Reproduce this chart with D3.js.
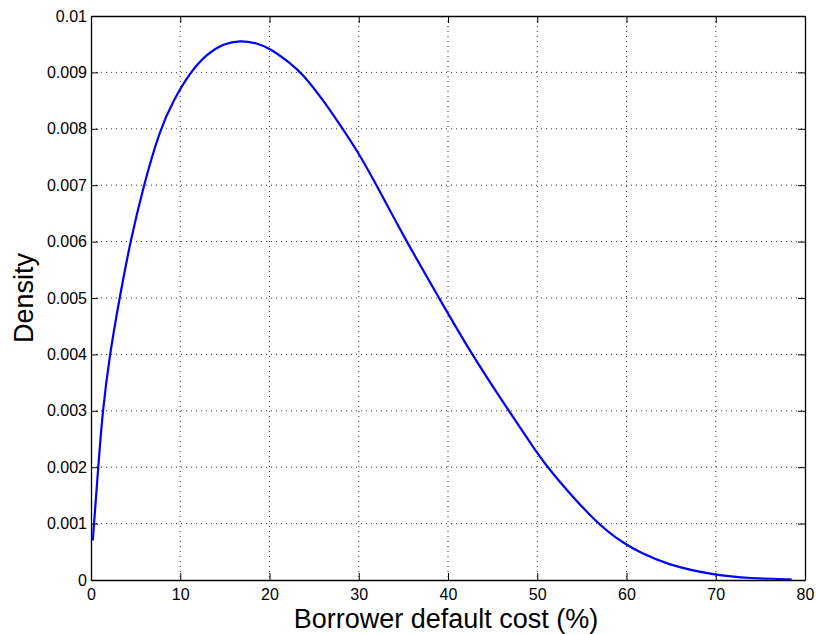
<!DOCTYPE html>
<html>
<head>
<meta charset="utf-8">
<script src="https://cdn.jsdelivr.net/npm/d3@7"></script>
<style>
  body { margin: 0; background: #fff; }
  svg { display: block; font-family: Arial, "Liberation Sans", Helvetica, sans-serif; }
</style>
</head>
<body>
<svg id="chart" width="816" height="634"></svg>
<script>
(() => {
    // values
    const costs = [0.2, 0.8, 1.3, 2.1, 3.2, 4.4, 5.9, 7.75, 9.25, 11.1, 13.0, 14.85, 16.7, 18.6, 20.0,
        22.3, 23.8, 26.0, 27.9, 30.0, 32.0, 35.35, 39.0, 42.65, 46.8, 50.0, 51.2, 56.7, 60.0, 61.4, 64.5, 70.0, 73.8, 78.5];
    const density = [0.0007, 0.00198, 0.0030, 0.0040, 0.0050, 0.0060, 0.0070, 0.0080, 0.00851, 0.0090, 0.00933, 0.00951, 0.00957, 0.00952, 0.00943,
        0.00917, 0.00896, 0.00851, 0.00807, 0.00757, 0.0070, 0.0060, 0.0050, 0.0040, 0.0030, 0.00225, 0.00198, 0.00098, 0.00062, 0.0005, 0.00027, 0.00008, 0.00003, 0.00001];
    const xTicks = [0, 10, 20, 30, 40, 50, 60, 70, 80];
    const yTicks = [0, 0.001, 0.002, 0.003, 0.004, 0.005, 0.006, 0.007, 0.008, 0.009, 0.01];

    const data = costs.map((c, i) => ({ x: c, y: density[i] }));

    const svg = d3.select("#chart"),
        margin = { top: 16, right: 11, bottom: 54, left: 91 },
        width = +svg.attr("width") - margin.left - margin.right,
        height = +svg.attr("height") - margin.top - margin.bottom;

    const g = svg.append("g").attr("transform", `translate(${margin.left},${margin.top})`);

    const x = d3.scaleLinear().domain([0, 80]).range([0, width]);
    const y = d3.scaleLinear().domain([0, 0.01]).range([height, 0]);

    // dotted grid
    g.append("g").selectAll("line")
        .data(xTicks.slice(1, -1))
        .enter().append("line")
        .attr("x1", d => x(d)).attr("x2", d => x(d))
        .attr("y1", 0).attr("y2", height)
        .attr("stroke", "#333").attr("stroke-width", 1)
        .attr("stroke-dasharray", "1,4");

    g.append("g").selectAll("line")
        .data(yTicks.slice(1, -1))
        .enter().append("line")
        .attr("x1", 0).attr("x2", width)
        .attr("y1", d => y(d)).attr("y2", d => y(d))
        .attr("stroke", "#333").attr("stroke-width", 1)
        .attr("stroke-dasharray", "1,4");

    const fmt = d => (d === 0 ? "0" : String(+d.toFixed(3)));

    // axes (inward ticks, MATLAB box)
    const styleAxis = sel => {
        sel.select(".domain").attr("stroke", "#000").attr("stroke-width", 1.3);
        sel.selectAll(".tick line").attr("stroke", "#000").attr("stroke-width", 1);
        sel.selectAll(".tick text").attr("fill", "#000").attr("font-size", "16px")
            .attr("font-family", "Arial, 'Liberation Sans', sans-serif");
    };

    g.append("g")
        .attr("transform", `translate(0,${height})`)
        .call(d3.axisBottom(x).tickValues(xTicks).tickSizeInner(-7).tickSizeOuter(0).tickPadding(9))
        .call(styleAxis);

    g.append("g")
        .call(d3.axisLeft(y).tickValues(yTicks).tickFormat(fmt).tickSizeInner(-7).tickSizeOuter(0).tickPadding(4))
        .call(styleAxis);

    g.append("g")
        .call(d3.axisTop(x).tickValues(xTicks).tickFormat("").tickSizeInner(-7).tickSizeOuter(0))
        .call(styleAxis);

    g.append("g")
        .attr("transform", `translate(${width},0)`)
        .call(d3.axisRight(y).tickValues(yTicks).tickFormat("").tickSizeInner(-7).tickSizeOuter(0))
        .call(styleAxis);

    // density curve
    g.append("path")
        .datum(data)
        .attr("fill", "none")
        .attr("stroke", "#0000ff")
        .attr("stroke-width", 2.2)
        .attr("d", d3.line().x(d => x(d.x)).y(d => y(d.y)).curve(d3.curveBasis));

    // axis labels
    svg.append("text")
        .attr("x", 446)
        .attr("y", 628)
        .attr("text-anchor", "middle")
        .attr("font-size", "27px")
        .text("Borrower default cost (%)");

    svg.append("text")
        .attr("transform", `translate(33,${margin.top + height / 2}) rotate(-90)`)
        .attr("text-anchor", "middle")
        .attr("font-size", "27px")
        .text("Density");
})();
</script>
</body>
</html>
